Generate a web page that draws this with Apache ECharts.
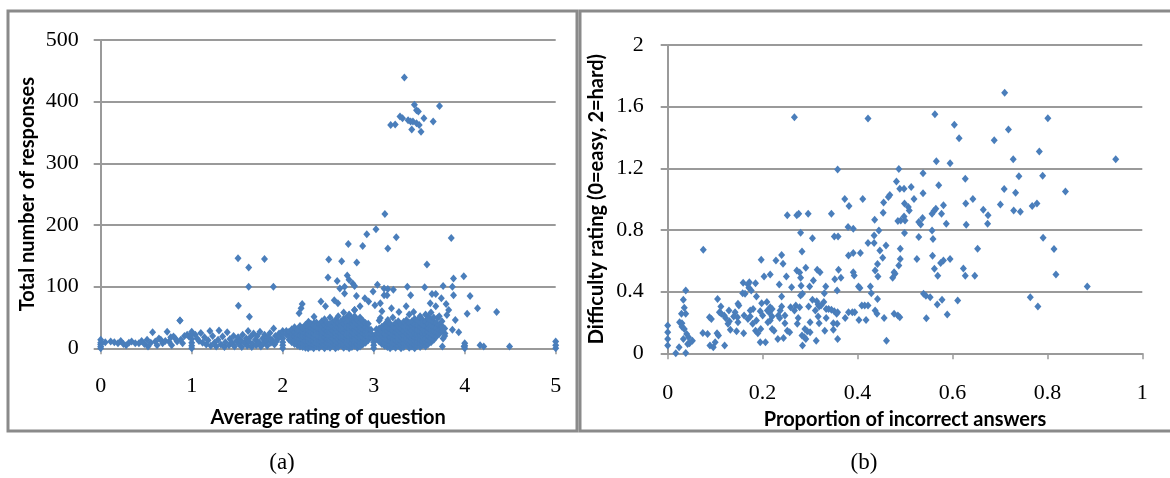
<!DOCTYPE html>
<html><head><meta charset="utf-8">
<script src="https://cdn.jsdelivr.net/npm/echarts@6/dist/echarts.min.js"></script>
<style>html,body{margin:0;padding:0;background:#fff}#c{width:1170px;height:478px}</style>
</head><body><div id="c"></div>
<script>
// ---- Panel (a): Average rating of question vs Total number of responses ----
var aXTicks = ['0','1','2','3','4','5'];
var aYTicks = ['0','100','200','300','400','500'];
// scattered low points, x in [0,2)
var aLow = [[0.05,10],[0.11,11],[0.15,10],[0.19,8],[0.22,12],[0.25,7],[0.28,5],[0.31,9],[0.34,11],[0.38,8],[0.42,8],[0.45,12],[0.48,7],[0.51,14],[0.52,3],[0.55,9],[0.57,26],[0.6,11],[0.62,5],[0.64,16],[0.66,14],[0.68,8],[0.71,12],[0.73,27],[0.75,11],[0.77,18],[0.78,5],[0.8,19],[0.82,16],[0.84,11],[0.87,45],[0.88,14],[0.9,8],[0.92,20],[0.95,22],[0.97,19],
[1.04,22],[1.06,16],[1.08,12],[1.1,25],[1.12,9],[1.14,18],[1.16,6],[1.18,13],[1.2,28],[1.21,4],[1.23,20],[1.25,9],[1.27,3],[1.29,14],[1.3,29],[1.32,6],[1.34,19],[1.36,2],[1.37,10],[1.39,26],[1.41,5],[1.42,15],[1.44,9],[1.46,20],[1.47,3],[1.49,12],
[1.51,18],[1.52,7],[1.54,13],[1.55,2],[1.56,22],[1.58,9],[1.6,16],[1.61,4],[1.62,28],[1.63,11],[1.65,19],[1.66,2],[1.67,7],[1.68,24],[1.7,14],[1.71,5],[1.72,20],[1.74,10],[1.75,27],[1.76,3],[1.78,16],[1.79,8],[1.8,22],[1.82,12],[1.83,4],[1.84,18],[1.86,25],[1.87,9],[1.88,14],[1.9,32],[1.91,6],[1.92,20],[1.93,11],[1.95,16],[1.96,24],[1.97,19]];
// points sitting exactly on integer ratings
var aInteger = [[0,0],[0,3],[0,6],[0,9],[0,14],[1,0],[1,4],[1,9],[1,15],[1,22],[1,27],[2,0],[2,5],[2,10],[2,16],[2,22],[2,28],[3,0],[3,5],[3,10],[3,15],[3,20],[4,0],[4,4],[4,8],[5,0],[5,5],[5,11]];
// dense band, x -> list of y values
var aDense = [
[2.04,[22,28]],[2.07,[14,20,27]],[2.10,[10,16,23,31]],[2.13,[7,13,19,26,34]],[2.16,[5,11,17,24,30]],[2.19,[3,9,15,21,28,36]],[2.22,[2,8,14,20,27,33]],[2.25,[1,6,12,19,25,31,38]],[2.28,[0,5,11,17,23,30,35]],[2.31,[2,8,14,21,27,33,40]],[2.34,[0,6,12,18,25,31,37]],[2.37,[3,9,15,22,28,35,42]],[2.40,[1,7,13,19,26,32,39]],[2.43,[4,10,16,23,29,36,44]],[2.46,[0,6,12,18,25,31,38,47]],[2.49,[3,9,15,21,28,34,41]],[2.52,[1,7,13,20,26,33,39,50]],[2.55,[4,10,16,22,29,35,43]],[2.58,[0,6,12,19,25,32,38,46]],[2.61,[2,9,15,21,27,34,41,52]],[2.64,[5,11,17,24,30,37,44]],[2.67,[1,7,14,20,26,33,40,48,58]],[2.70,[3,9,16,22,29,35,42,50]],[2.73,[0,6,12,18,25,31,38,45,55]],[2.76,[2,8,15,21,27,34,41,47]],[2.79,[4,10,17,23,30,36,43,52,62]],[2.82,[1,7,13,19,26,32,39,46]],[2.85,[3,9,16,22,28,35,42,50,68]],[2.88,[6,12,18,25,31,38,45]],[2.91,[9,15,21,27,34,41]],[2.94,[13,19,25,32,40]],[2.97,[18,24,30]],
[3.03,[17,24,31]],[3.06,[11,18,25,32,45]],[3.09,[7,13,20,27,35,60]],[3.12,[4,10,16,23,30,38]],[3.15,[2,8,14,21,28,35,42]],[3.18,[0,6,12,18,25,32,40]],[3.21,[3,9,15,22,29,36,50]],[3.24,[1,7,13,19,26,33,41]],[3.27,[4,10,16,23,30,37,44]],[3.30,[0,6,12,19,25,32,39]],[3.33,[2,8,14,21,28,35,43]],[3.36,[5,11,17,24,31,38,46]],[3.39,[1,7,13,20,27,34,41,55]],[3.42,[3,9,16,22,29,36,44]],[3.45,[0,6,12,18,25,32,39,48]],[3.48,[4,10,16,23,30,37,45]],[3.51,[2,8,14,21,28,35,42,52]],[3.54,[5,11,18,24,31,38,46]],[3.57,[3,9,16,22,29,36,44,55]],[3.60,[7,13,20,27,33,40,48]],[3.63,[10,17,24,30,38,46,58]],[3.66,[14,21,28,35,43,50]],[3.69,[19,26,33,41]],[3.72,[23,30,38,52]],[3.75,[28,36,44]],[3.78,[20,32]]];
// higher / outlying points
var aHigh = [[3.337,439],[3.447,395],[3.723,393],[3.471,386],[3.491,384],[3.289,376],[3.317,373],[3.552,373],[3.378,370],[3.406,368],[3.654,368],[3.187,362],[3.236,363],[3.471,365],[3.5,362],[3.418,355],[3.52,351],[3.431,368],
[3.123,218],[3.025,193],[2.924,185],[3.248,180],[3.852,179],[2.721,169],[2.879,166],[3.155,162],[1.509,146],[1.8,145],[2.506,144],[2.648,141],[2.814,139],[1.626,131],[3.585,136],[3.99,117],[2.498,115],[2.709,118],[2.729,111],[2.77,105],[3.877,113],[2.599,109],[1.626,100],[1.898,100],[2.68,100],[2.79,101],[3.041,103],[3.114,97],[3.155,96],[3.37,100],[3.56,99],[3.763,101],[3.865,100],[2.993,92],[3.216,95],[3.641,88],[3.682,88],[3.406,86],[4.059,85],[3.877,86],[2.81,85],[2.68,89],[3.114,86],[3.147,86],[1.513,69],[4.141,65],[4.351,59],[4.027,56],[3.804,54],[1.634,51],[0.872,45],[3.934,26],[3.865,30],[3.755,3],[3.994,3],[4.169,5],[4.209,3],[4.493,3],
[2.202,65],[2.214,72],[2.18,57],[2.42,76],[2.47,68],[2.567,78],[2.607,73],[2.628,97],[2.903,81],[2.944,76],[3.013,70],[3.073,73],[3.195,65],[3.277,59],[3.357,68],[3.439,59],[3.621,73],[3.682,68],[3.743,81],[3.796,72],[3.824,62],[3.601,51],[3.702,49],[3.897,46],[3.783,24],[3.763,16],[3.073,49],[3.155,46],[2.729,54],[2.79,62],[2.344,51],[2.283,43],[2.344,41]];

// ---- Panel (b): Proportion of incorrect answers vs Difficulty rating ----
var bXTicks = ['0','0.2','0.4','0.6','0.8','1'];
var bYTicks = ['0','0.4','0.8','1.2','1.6','2'];
var bPoints = [[0.710,1.690],[0.267,1.532],[0.422,1.523],[0.563,1.551],[0.801,1.525],[0.604,1.482],[0.718,1.452],[0.614,1.395],[0.688,1.382],[0.783,1.309],[0.944,1.259],[0.728,1.259],[0.566,1.246],[0.595,1.233],[0.358,1.192],[0.487,1.196],[0.538,1.168],[0.740,1.148],[0.790,1.151],[0.627,1.133],[0.482,1.114],[0.513,1.079],[0.571,1.090],[0.489,1.068],[0.498,1.068],[0.709,1.066],[0.538,1.038],[0.733,1.042],[0.838,1.049],[0.468,1.027],[0.465,1.014],[0.519,1.001],[0.643,1.001],[0.373,1.001],[0.411,1.001],[0.455,0.979],[0.499,0.971],[0.628,0.971],[0.701,0.966],[0.778,0.971],[0.768,0.956],[0.382,0.956],[0.581,0.960],[0.507,0.949],[0.509,0.927],[0.565,0.938],[0.561,0.923],[0.729,0.927],[0.743,0.919],[0.665,0.932],[0.454,0.912],[0.345,0.906],[0.557,0.906],[0.498,0.888],[0.500,0.862],[0.296,0.906],[0.252,0.895],[0.272,0.895],[0.276,0.906],[0.577,0.906],[0.537,0.877],[0.675,0.895],[0.529,0.852],[0.533,0.836],[0.485,0.858],[0.491,0.862],[0.587,0.841],[0.629,0.834],[0.674,0.841],[0.436,0.867],[0.380,0.819],[0.391,0.808],[0.280,0.782],[0.445,0.797],[0.499,0.780],[0.557,0.797],[0.435,0.765],[0.351,0.758],[0.359,0.758],[0.305,0.747],[0.529,0.754],[0.559,0.741],[0.791,0.750],[0.422,0.715],[0.435,0.715],[0.460,0.700],[0.075,0.672],[0.490,0.678],[0.653,0.678],[0.814,0.676],[0.447,0.667],[0.283,0.661],[0.391,0.650],[0.406,0.650],[0.381,0.635],[0.240,0.637],[0.197,0.607],[0.595,0.611],[0.228,0.602],[0.581,0.602],[0.525,0.611],[0.453,0.620],[0.490,0.611],[0.558,0.633],[0.442,0.580],[0.575,0.585],[0.487,0.570],[0.243,0.581],[0.562,0.548],[0.623,0.550],[0.272,0.537],[0.278,0.524],[0.291,0.555],[0.315,0.542],[0.321,0.526],[0.360,0.542],[0.391,0.526],[0.393,0.505],[0.437,0.537],[0.477,0.526],[0.479,0.516],[0.203,0.498],[0.216,0.511],[0.250,0.498],[0.443,0.498],[0.569,0.503],[0.627,0.503],[0.647,0.503],[0.818,0.511],[0.474,0.490],[0.280,0.490],[0.352,0.481],[0.365,0.490],[0.307,0.472],[0.235,0.446],[0.159,0.457],[0.169,0.446],[0.172,0.461],[0.185,0.455],[0.281,0.438],[0.333,0.433],[0.402,0.433],[0.405,0.423],[0.884,0.433],[0.427,0.433],[0.261,0.429],[0.299,0.433],[0.038,0.407],[0.171,0.425],[0.176,0.407],[0.357,0.407],[0.429,0.390],[0.158,0.390],[0.163,0.386],[0.330,0.390],[0.539,0.386],[0.544,0.373],[0.553,0.364],[0.764,0.364],[0.280,0.375],[0.284,0.386],[0.187,0.368],[0.240,0.368],[0.105,0.353],[0.033,0.347],[0.305,0.347],[0.314,0.338],[0.578,0.347],[0.442,0.353],[0.611,0.342],[0.329,0.332],[0.148,0.321],[0.150,0.310],[0.198,0.325],[0.209,0.332],[0.240,0.303],[0.568,0.316],[0.780,0.303],[0.409,0.310],[0.422,0.310],[0.317,0.316],[0.319,0.303],[0.323,0.310],[0.112,0.303],[0.297,0.303],[0.334,0.288],[0.339,0.288],[0.035,0.295],[0.216,0.299],[0.220,0.288],[0.259,0.299],[0.270,0.310],[0.278,0.299],[0.180,0.288],[0.345,0.282],[0.351,0.273],[0.109,0.267],[0.113,0.256],[0.129,0.277],[0.142,0.267],[0.174,0.277],[0.195,0.273],[0.210,0.277],[0.214,0.264],[0.237,0.277],[0.267,0.277],[0.311,0.277],[0.358,0.267],[0.356,0.256],[0.381,0.267],[0.389,0.267],[0.394,0.267],[0.415,0.310],[0.437,0.277],[0.441,0.256],[0.477,0.256],[0.485,0.245],[0.489,0.234],[0.589,0.251],[0.029,0.256],[0.038,0.256],[0.088,0.234],[0.092,0.223],[0.119,0.245],[0.122,0.229],[0.139,0.238],[0.147,0.234],[0.161,0.245],[0.169,0.223],[0.174,0.238],[0.200,0.245],[0.220,0.238],[0.233,0.245],[0.236,0.229],[0.247,0.245],[0.275,0.229],[0.317,0.238],[0.334,0.229],[0.374,0.229],[0.403,0.216],[0.418,0.216],[0.456,0.229],[0.545,0.227],[0.025,0.201],[0.030,0.195],[0.130,0.208],[0.127,0.191],[0.148,0.201],[0.187,0.212],[0.179,0.191],[0.211,0.201],[0.216,0.212],[0.247,0.195],[0.273,0.191],[0.300,0.201],[0.319,0.195],[0.349,0.195],[0.357,0.191],[0.0,0.180],[0.030,0.173],[0.0,0.137],[0.0,0.093],[0.0,0.050],[0.035,0.158],[0.040,0.126],[0.044,0.104],[0.033,0.093],[0.052,0.082],[0.046,0.065],[0.042,0.061],[0.038,0.002],[0.017,0.0],[0.024,0.039],[0.074,0.132],[0.104,0.130],[0.107,0.115],[0.132,0.152],[0.145,0.143],[0.160,0.130],[0.185,0.147],[0.190,0.130],[0.196,0.158],[0.220,0.158],[0.224,0.147],[0.252,0.147],[0.257,0.137],[0.289,0.158],[0.294,0.143],[0.300,0.137],[0.331,0.147],[0.349,0.152],[0.283,0.115],[0.288,0.104],[0.291,0.093],[0.313,0.082],[0.358,0.093],[0.232,0.093],[0.244,0.100],[0.461,0.082],[0.195,0.071],[0.206,0.071],[0.284,0.050],[0.089,0.050],[0.096,0.039],[0.120,0.050],[0.100,0.071],[0.084,0.126]];

var aAll = aLow.concat(aInteger, aHigh);
aDense.forEach(function (col) { col[1].forEach(function (v) { aAll.push([col[0], v]); }); });

var BLUE = '#4a7ebb';
var GRID = '#9a9a9a';
var tickFont = {fontFamily: 'Liberation Serif', fontSize: 22, color: '#000'};
var titleFont = {fontFamily: 'Lato', fontWeight: 'bold', fontSize: 20, color: '#000'};

function xAxisDef(idx, max, interval, labels, name, gap, margin) {
  return {
    type: 'value', gridIndex: idx, min: 0, max: max, interval: interval,
    name: name, nameLocation: 'middle', nameGap: gap, nameTextStyle: titleFont,
    axisLine: {show: true, lineStyle: {color: GRID, width: 2}},
    axisTick: {show: true, length: 6, inside: false, lineStyle: {color: GRID, width: 1.5}},
    splitLine: {show: false},
    axisLabel: Object.assign({margin: margin, formatter: function (v) {
      var i = Math.round(v / interval); return labels[i] !== undefined ? labels[i] : '';
    }}, tickFont)
  };
}
function yAxisDef(idx, max, interval, labels, name, gap, margin) {
  return {
    type: 'value', gridIndex: idx, min: 0, max: max, interval: interval,
    name: name, nameLocation: 'middle', nameGap: gap, nameTextStyle: titleFont,
    axisLine: {show: true, lineStyle: {color: GRID, width: 2}},
    axisTick: {show: true, length: 7, inside: false, lineStyle: {color: GRID, width: 2}},
    splitLine: {show: true, lineStyle: {color: GRID, width: 2}},
    axisLabel: Object.assign({margin: margin, formatter: function (v) {
      var i = Math.round(v / interval); return labels[i] !== undefined ? labels[i] : '';
    }}, tickFont)
  };
}

var chart = echarts.init(document.getElementById('c'), null, {renderer: 'canvas'});
chart.setOption({
  backgroundColor: '#fff',
  animation: false,
  grid: [
    {left: 100.7, right: 1170 - 555.7, top: 40, bottom: 478 - 348.3},
    {left: 667.7, right: 1170 - 1142.3, top: 45, bottom: 478 - 353.3}
  ],
  xAxis: [
    xAxisDef(0, 5, 1, aXTicks, 'Average rating of question', 59, 27),
    xAxisDef(1, 1, 0.2, bXTicks, 'Proportion of incorrect answers', 54, 29)
  ],
  yAxis: [
    yAxisDef(0, 500, 100, aYTicks, 'Total number of responses', 63, 22),
    yAxisDef(1, 2, 0.4, bYTicks, 'Difficulty rating (0=easy, 2=hard)', 61, 24)
  ],
  series: [
    {type: 'scatter', xAxisIndex: 0, yAxisIndex: 0, data: aAll, symbol: 'diamond', symbolSize: [7, 8],
     itemStyle: {color: BLUE, opacity: 1}, clip: false},
    {type: 'scatter', xAxisIndex: 1, yAxisIndex: 1, data: bPoints, symbol: 'diamond', symbolSize: [7, 8],
     itemStyle: {color: BLUE, opacity: 1}, clip: false}
  ],
  graphic: [
    {type: 'rect', shape: {x: 8, y: 11, width: 569, height: 420}, style: {fill: null, stroke: '#8a8a8a', lineWidth: 3}, z: -1},
    {type: 'rect', shape: {x: 580, y: 11, width: 600, height: 420}, style: {fill: null, stroke: '#8a8a8a', lineWidth: 3}, z: -1},
    {type: 'text', x: 282, y: 463, style: {text: '(a)', font: '23px "Liberation Serif"', fill: '#000', textAlign: 'center', textVerticalAlign: 'middle'}},
    {type: 'text', x: 864, y: 463, style: {text: '(b)', font: '23px "Liberation Serif"', fill: '#000', textAlign: 'center', textVerticalAlign: 'middle'}}
  ]
});
</script>
</body></html>
